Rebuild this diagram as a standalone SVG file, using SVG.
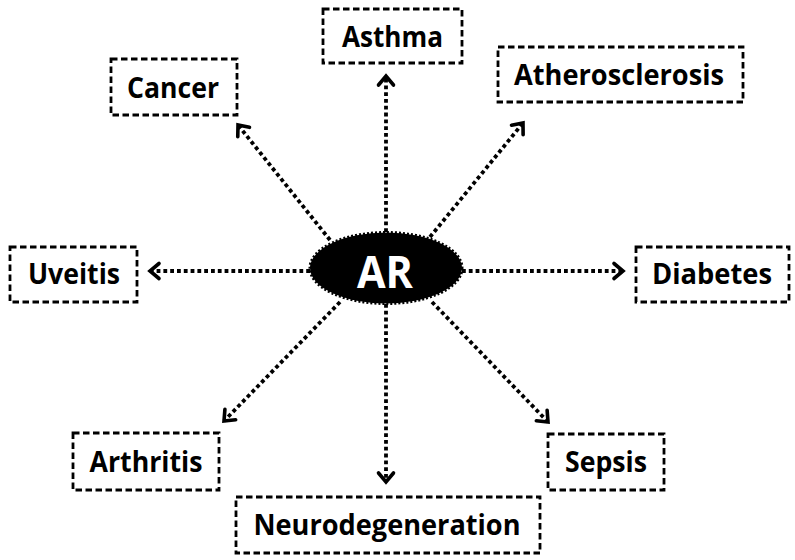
<svg xmlns="http://www.w3.org/2000/svg" width="795" height="560" viewBox="0 0 795 560">
<style>
.box{fill:#fff;stroke:#000;stroke-width:2.8;stroke-dasharray:6.5 3.5}
.lbl{font-family:"Open Sans","Liberation Sans",sans-serif;font-weight:700;font-size:29px;fill:#000;text-anchor:middle}
.con{fill:none;stroke:#000;stroke-width:3.8;stroke-dasharray:3.8 3;marker-end:url(#arr)}
</style>
<defs>
<marker id="arr" markerUnits="userSpaceOnUse" viewBox="-14 -10 18 20" markerWidth="18" markerHeight="20" refX="0" refY="0" orient="auto" overflow="visible">
<path d="M-9,-7.5 L0,0 L-9,7.5" fill="none" stroke="#000" stroke-width="3.6" stroke-linecap="round" stroke-linejoin="miter"/>
</marker>
</defs>
<rect width="795" height="560" fill="#fff"/>
<g id="connectors">
<line class="con" x1="386" y1="232" x2="386" y2="76"/>
<line class="con" x1="330" y1="240" x2="238" y2="125"/>
<line class="con" x1="430" y1="237" x2="523" y2="123"/>
<line class="con" x1="310" y1="271" x2="150" y2="271"/>
<line class="con" x1="462" y1="271" x2="623" y2="271"/>
<line class="con" x1="340" y1="302" x2="224" y2="421"/>
<line class="con" x1="386" y1="304" x2="386" y2="482"/>
<line class="con" x1="432" y1="302" x2="548" y2="422"/>
</g>
<g id="AR">
<ellipse cx="386" cy="268" rx="76" ry="35.5" fill="#000" stroke="#000" stroke-width="3" stroke-dasharray="2 2"/>
<text x="385" y="288" font-family="Open Sans, Liberation Sans, sans-serif" font-weight="700" font-size="44" fill="#fff" text-anchor="middle" textLength="56" lengthAdjust="spacingAndGlyphs">AR</text>
</g>
<g id="asthma">
<rect class="box" x="323" y="9" width="139" height="54"/>
<text class="lbl" x="392.5" y="47" textLength="101" lengthAdjust="spacingAndGlyphs">Asthma</text>
</g>
<g id="atherosclerosis">
<rect class="box" x="498" y="47" width="245" height="55"/>
<text class="lbl" x="619" y="85" textLength="210" lengthAdjust="spacingAndGlyphs">Atherosclerosis</text>
</g>
<g id="cancer">
<rect class="box" x="111" y="59" width="126" height="56"/>
<text class="lbl" x="173" y="98" textLength="92" lengthAdjust="spacingAndGlyphs">Cancer</text>
</g>
<g id="uveitis">
<rect class="box" x="10" y="247" width="127" height="55"/>
<text class="lbl" x="74" y="284" textLength="92" lengthAdjust="spacingAndGlyphs">Uveitis</text>
</g>
<g id="diabetes">
<rect class="box" x="636" y="247" width="153" height="55"/>
<text class="lbl" x="712" y="284" textLength="120" lengthAdjust="spacingAndGlyphs">Diabetes</text>
</g>
<g id="arthritis">
<rect class="box" x="73" y="433" width="146" height="57"/>
<text class="lbl" x="146" y="472" textLength="113" lengthAdjust="spacingAndGlyphs">Arthritis</text>
</g>
<g id="neurodegeneration">
<rect class="box" x="236" y="497" width="304" height="56"/>
<text class="lbl" x="387" y="535" textLength="267" lengthAdjust="spacingAndGlyphs">Neurodegeneration</text>
</g>
<g id="sepsis">
<rect class="box" x="548" y="434" width="116" height="56"/>
<text class="lbl" x="606" y="472" textLength="82" lengthAdjust="spacingAndGlyphs">Sepsis</text>
</g>
</svg>
